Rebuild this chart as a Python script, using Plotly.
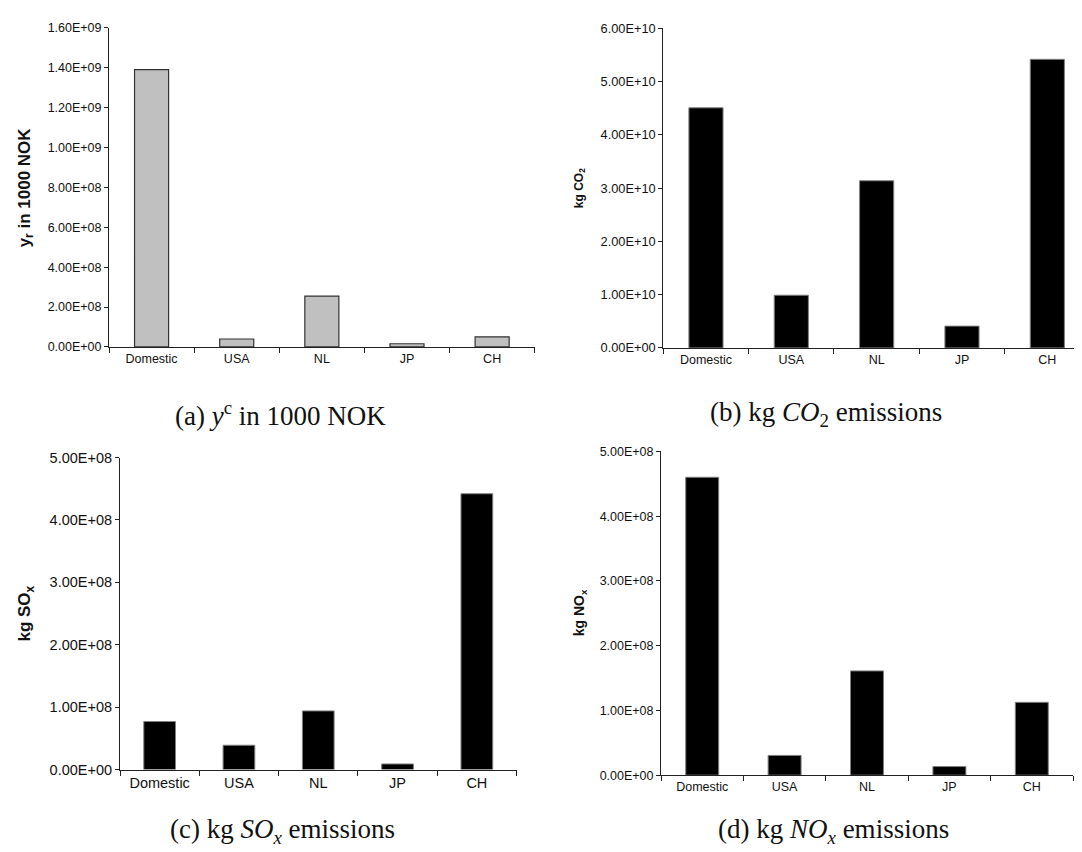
import plotly.graph_objects as go

categories = ["Domestic", "USA", "NL", "JP", "CH"]
output_1000nok = [1.39e9, 4.0e7, 2.55e8, 1.6e7, 5.1e7]
co2_kg = [4.51e10, 9.9e9, 3.14e10, 4.1e9, 5.42e10]
sox_kg = [7.7e7, 3.9e7, 9.4e7, 9.0e6, 4.42e8]
nox_kg = [4.6e8, 3.05e7, 1.61e8, 1.33e7, 1.125e8]

ticks_a = [0, 2e8, 4e8, 6e8, 8e8, 1.0e9, 1.2e9, 1.4e9, 1.6e9]
ticks_b = [0, 1e10, 2e10, 3e10, 4e10, 5e10, 6e10]
ticks_c = [0, 1e8, 2e8, 3e8, 4e8, 5e8]
ticks_d = [0, 1e8, 2e8, 3e8, 4e8, 5e8]

W, H = 1082, 852
SANS = "Liberation Sans, Arial, sans-serif"
SERIF = "Liberation Serif, Times New Roman, serif"

def fmt(v):
    return f"{v:.2E}"

panels = [
    (output_1000nok, ticks_a, 101, 526.7, 12, 337.3, 12.5, 12.5, "#C0C0C0", "#333333", 1.2,
     "y<sub>r</sub> in 1000 NOK", 17, 18, "(a) <i>y</i><sup>c</sup> in 1000 NOK", 272, 406),
    (co2_kg, ticks_b, 655.3, 1082, 12.7, 338.3, 12.8, 12.5, "#000000", "#808080", 1,
     "kg CO<sub>2</sub>", 12, 572, "(b) kg <i>CO</i><sub>2</sub> emissions", 818, 406),
    (sox_kg, ticks_c, 112, 508.5, 450, 768, 14.5, 14.5, "#000000", "#808080", 1,
     "kg SO<sub>x</sub>", 17, 18, "(c) kg <i>SO</i><sub><i>x</i></sub> emissions", 274, 831),
    (nox_kg, ticks_d, 653, 1065, 443.7, 773.7, 12.5, 12.5, "#000000", "#808080", 1,
     "kg NO<sub>x</sub>", 14, 572, "(d) kg <i>NO</i><sub><i>x</i></sub> emissions", 825, 831),
]

fig = go.Figure()
annotations = []
for i, (vals, ticks, xl, xr, yt, yb, tfs, cfs, fill, edge, ew,
        ytitle, ytfs, ytx, caption, capx, capy) in enumerate(panels):
    n = "" if i == 0 else str(i + 1)
    fig.add_trace(go.Bar(
        x=categories, y=vals, width=0.4,
        marker=dict(color=fill, line=dict(color=edge, width=ew)),
        xaxis="x" + n, yaxis="y" + n, showlegend=False,
    ))
    fig.layout["xaxis" + n] = dict(
        domain=[xl / W, min(xr / W, 1.0)], anchor="y" + n,
        type="category", tickson="boundaries", ticks="outside", ticklen=5,
        tickcolor="#222", showline=True, linecolor="#222", linewidth=1,
        showgrid=False, zeroline=False,
        tickfont=dict(family=SANS, size=cfs, color="#111"),
        range=[-0.5, 4.5], fixedrange=True,
    )
    fig.layout["yaxis" + n] = dict(
        domain=[1 - yb / H, 1 - yt / H], anchor="x" + n,
        range=[0, ticks[-1]], tickvals=ticks, ticktext=[fmt(t) for t in ticks],
        ticks="outside", ticklen=4, tickcolor="#222",
        showline=True, linecolor="#222", linewidth=1,
        showgrid=False, zeroline=False,
        tickfont=dict(family=SANS, size=tfs, color="#111"),
        fixedrange=True,
    )
    annotations.append(dict(
        text="<b>" + ytitle + "</b>", textangle=-90, showarrow=False,
        xref="paper", yref="paper", x=ytx / W, y=1 - (yt + yb) / 2 / H,
        xanchor="center", yanchor="middle",
        font=dict(family=SANS, size=ytfs, color="#111"),
    ))
    annotations.append(dict(
        text=caption, showarrow=False,
        xref="paper", yref="paper", x=capx / W, y=1 - capy / H,
        xanchor="center", yanchor="middle",
        font=dict(family=SERIF, size=27, color="#111"),
    ))

fig.update_layout(
    width=W, height=H, margin=dict(l=0, r=0, t=0, b=0),
    paper_bgcolor="white", plot_bgcolor="white",
    annotations=annotations, bargap=0.6,
)
fig.write_html("out.html", config={"displayModeBar": False})
